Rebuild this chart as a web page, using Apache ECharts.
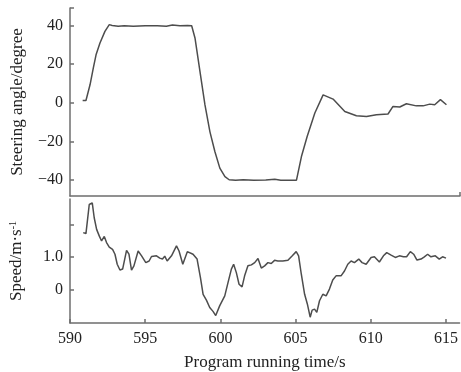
<!DOCTYPE html>
<html>
<head>
<meta charset="utf-8">
<script src="https://cdn.jsdelivr.net/npm/echarts@6/dist/echarts.min.js"></script>
<style>
  html, body { margin: 0; padding: 0; background: #fff; }
  #chart { width: 461px; height: 372px; }
</style>
</head>
<body>
<div id="chart"></div>
<script>
// Steering angle trace (time in s, angle in degrees)
const steerTime = [590.84, 591.06, 591.33, 591.55, 591.73, 591.99, 592.32, 592.61, 592.8, 593.2, 593.6, 594.2,
  595.0, 595.8, 596.4, 596.8, 597.3, 597.8, 598.08, 598.3, 598.63, 598.96, 599.29, 599.62, 599.95, 600.29,
  600.57, 601.0, 601.5, 602.2, 603.0, 603.6, 604.0, 605.04, 605.37, 605.75, 606.26, 606.81, 607.47, 608.25,
  609.02, 609.69, 610.35, 611.12, 611.45, 611.9, 612.34, 613.0, 613.45, 613.89, 614.22, 614.6, 615.0];
const steerAngle = [1.2, 1.2, 9.3, 18.0, 24.8, 30.9, 36.9, 40.4, 40.0, 39.6, 39.8, 39.6,
  39.8, 39.8, 39.6, 40.2, 39.8, 40.0, 39.8, 33.5, 16.2, -1.0, -14.9, -25.2, -33.8, -38.2,
  -39.8, -40.0, -39.8, -40.0, -39.9, -39.6, -40.0, -40.0, -27.8, -17.4, -5.3, 4.1, 1.9, -4.5,
  -6.7, -7.1, -6.2, -5.8, -1.9, -2.2, -0.5, -1.6, -1.6, -0.7, -1.0, 1.6, -1.0];

// Speed trace (time in s, speed in m/s)
const speedTime = [590.88, 591.06, 591.28, 591.48, 591.61, 591.77, 591.95, 592.1, 592.28, 592.43, 592.61, 592.83,
  592.99, 593.14, 593.32, 593.5, 593.76, 593.92, 594.09, 594.25, 594.53, 594.76, 595.04, 595.26, 595.42, 595.75,
  595.97, 596.15, 596.3, 596.46, 596.75, 597.08, 597.25, 597.5, 597.8, 598.18, 598.45, 598.67, 598.85, 599.07,
  599.29, 599.51, 599.69, 599.95, 600.29, 600.51, 600.73, 600.88, 601.06, 601.24, 601.44, 601.61, 601.83, 602.06,
  602.28, 602.5, 602.72, 602.94, 603.16, 603.38, 603.6, 603.82, 604.15, 604.49, 604.78, 605.04, 605.2, 605.38,
  605.6, 605.78, 605.97, 606.1, 606.26, 606.41, 606.59, 606.81, 607.03, 607.25, 607.47, 607.69, 608.02, 608.25,
  608.47, 608.69, 608.91, 609.2, 609.42, 609.69, 610.02, 610.24, 610.57, 610.84, 611.06, 611.35, 611.63, 611.9,
  612.17, 612.38, 612.63, 612.85, 613.07, 613.34, 613.56, 613.78, 614.0, 614.29, 614.55, 614.77, 615.0];
const speedValue = [1.76, 1.73, 2.63, 2.68, 2.22, 1.86, 1.65, 1.5, 1.64, 1.45, 1.31, 1.24,
  1.09, 0.78, 0.6, 0.63, 1.21, 1.09, 0.6, 0.73, 1.19, 1.04, 0.83, 0.88, 1.02, 1.04,
  0.97, 0.94, 1.03, 0.88, 1.04, 1.35, 1.19, 0.78, 1.17, 1.09, 0.94, 0.37, -0.15, -0.33,
  -0.56, -0.68, -0.81, -0.51, -0.2, 0.22, 0.63, 0.78, 0.52, 0.16, 0.08, 0.42, 0.73, 0.76,
  0.83, 0.96, 0.66, 0.73, 0.83, 0.8, 0.9, 0.88, 0.88, 0.9, 1.04, 1.17, 1.04, 0.47,
  -0.15, -0.45, -0.86, -0.64, -0.61, -0.71, -0.35, -0.15, -0.2, 0.01, 0.29, 0.42, 0.42, 0.57,
  0.78, 0.88, 0.83, 0.94, 0.83, 0.78, 0.99, 1.01, 0.85, 1.04, 1.14, 1.06, 0.99, 1.04,
  1.01, 1.01, 1.17, 1.09, 0.91, 0.94, 1.01, 1.09, 1.01, 1.04, 0.94, 1.01, 0.97];

// Axis ticks
const timeTicks = [590, 595, 600, 605, 610, 615];
const angleTicks = [-40, -20, 0, 20, 40];
const speedTicks = [0, 1, 2];
const speedLabels = [0, 1];

const FONT = 'Liberation Serif';
const AXIS_COLOR = '#6e6e6e';
const LINE_COLOR = '#4d4d4d';
const TIME_MIN = 590, TIME_MAX = 615.9;
const ANGLE_MIN = -48.2, ANGLE_MAX = 49;
const SPEED_MIN = -1.04, SPEED_MAX = 2.8;

const zip = (xs, ys) => xs.map((x, i) => [x, ys[i]]);

const axisLine = { show: true, onZero: false, lineStyle: { color: AXIS_COLOR, width: 1.5 } };
const labelStyle = { color: '#222', fontFamily: FONT, fontSize: 16 };

const chart = echarts.init(document.getElementById('chart'), null, { renderer: 'canvas' });
chart.setOption({
  backgroundColor: '#fff',
  animation: false,
  grid: [
    { left: 70, right: 1, top: 8, height: 188 },
    { left: 70, right: 1, top: 199, height: 125.5 }
  ],
  xAxis: [
    {
      type: 'value', gridIndex: 0, min: TIME_MIN, max: TIME_MAX,
      axisLine: axisLine,
      axisTick: { show: true, inside: true, length: 4, customValues: [TIME_MAX],
        lineStyle: { color: AXIS_COLOR, width: 1.5 } },
      axisLabel: { show: false },
      splitLine: { show: false }
    },
    {
      type: 'value', gridIndex: 1, min: TIME_MIN, max: TIME_MAX,
      axisLine: axisLine,
      axisTick: { show: true, inside: true, length: 4, customValues: timeTicks,
        lineStyle: { color: AXIS_COLOR, width: 1.5 } },
      axisLabel: Object.assign({ margin: 8, customValues: timeTicks }, labelStyle),
      splitLine: { show: false },
      name: 'Program running time/s', nameLocation: 'middle', nameGap: 31,
      nameTextStyle: { color: '#222', fontFamily: FONT, fontSize: 17 }
    }
  ],
  yAxis: [
    {
      type: 'value', gridIndex: 0, min: ANGLE_MIN, max: ANGLE_MAX,
      axisLine: axisLine,
      axisTick: { show: true, inside: true, length: 4, customValues: angleTicks.concat([ANGLE_MAX]),
        lineStyle: { color: AXIS_COLOR, width: 1.5 } },
      axisLabel: Object.assign({ margin: 7, customValues: angleTicks,
        formatter: v => (v < 0 ? '\u2212' + Math.abs(v) : String(v)) }, labelStyle),
      splitLine: { show: false },
      name: 'Steering angle/degree', nameLocation: 'middle', nameGap: 44,
      nameTextStyle: { color: '#222', fontFamily: FONT, fontSize: 17 }
    },
    {
      type: 'value', gridIndex: 1, min: SPEED_MIN, max: SPEED_MAX,
      axisLine: axisLine,
      axisTick: { show: true, inside: true, length: 4, customValues: speedTicks,
        lineStyle: { color: AXIS_COLOR, width: 1.5 } },
      axisLabel: Object.assign({ margin: 7, customValues: speedLabels,
        formatter: v => (v === 0 ? '0' : v.toFixed(1)) }, labelStyle),
      splitLine: { show: false },
      name: 'Speed/m·s{sup|-1}', nameLocation: 'middle', nameGap: 44,
      nameTextStyle: { color: '#222', fontFamily: FONT, fontSize: 17,
        rich: { sup: { fontFamily: FONT, fontSize: 10, verticalAlign: 'top', padding: [0, 0, 8, 0] } } }
    }
  ],
  series: [
    {
      type: 'line', xAxisIndex: 0, yAxisIndex: 0, data: zip(steerTime, steerAngle),
      showSymbol: false, smooth: false,
      lineStyle: { color: LINE_COLOR, width: 1.5 }
    },
    {
      type: 'line', xAxisIndex: 1, yAxisIndex: 1, data: zip(speedTime, speedValue),
      showSymbol: false, smooth: false,
      lineStyle: { color: LINE_COLOR, width: 1.5 }
    }
  ]
});
</script>
</body>
</html>
